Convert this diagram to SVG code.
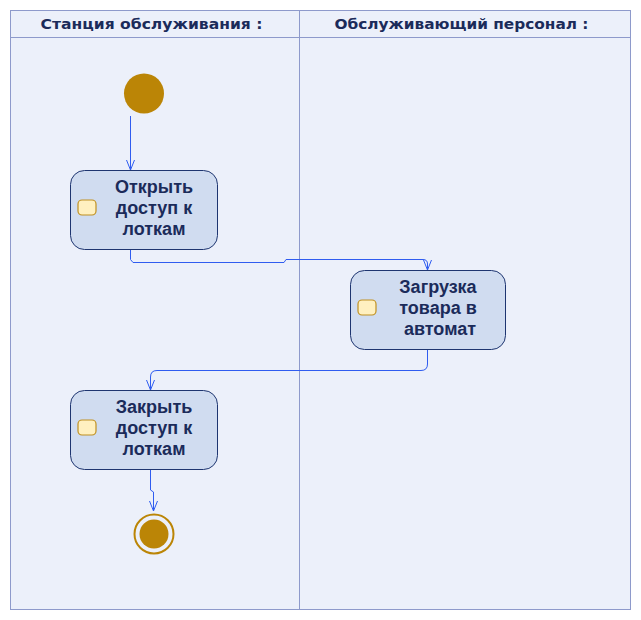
<svg xmlns="http://www.w3.org/2000/svg" width="641" height="620" viewBox="0 0 641 620">
<defs>
<style>
.hdr{font-family:"DejaVu Sans","Liberation Sans",Arial,sans-serif;font-weight:bold;font-size:14.5px;fill:#1b2b5a;text-anchor:middle}
.lbl{font-family:"Liberation Sans",Arial,sans-serif;font-weight:bold;font-size:18px;fill:#1b2b5a;text-anchor:middle}
.act{fill:#d0dcf0;stroke:#1e3570;stroke-width:1}
.ico{fill:#fff0c0;stroke:#c09020;stroke-width:1.2}
.edge{fill:none;stroke:#2f5cf0;stroke-width:1}
.lane{fill:#ecf0fa;stroke:#8e9acb;stroke-width:1}
</style>
<marker id="arr" viewBox="0 0 12 10" refX="11" refY="5" markerWidth="12" markerHeight="10" markerUnits="userSpaceOnUse" orient="auto">
<path d="M1,1 L11,5 L1,9" fill="none" stroke="#2f5cf0" stroke-width="1"/>
</marker>
</defs>
<rect width="641" height="620" fill="#ffffff"/>
<g id="lanes">
<rect class="lane" x="10.5" y="10.5" width="620" height="599"/>
<line x1="10.5" y1="37.5" x2="630.5" y2="37.5" stroke="#8e9acb"/>
<line x1="299.5" y1="10.5" x2="299.5" y2="609.5" stroke="#8e9acb"/>
<text class="hdr" x="151.5" y="29" textLength="222" lengthAdjust="spacingAndGlyphs">Станция обслуживания :</text>
<text class="hdr" x="461.5" y="29" textLength="254" lengthAdjust="spacingAndGlyphs">Обслуживающий персонал :</text>
</g>
<g id="connectors">
<path class="edge" d="M130.5,116 V170" marker-end="url(#arr)"/>
<path class="edge" d="M130.5,250 V259.5 L133,262.5 H284 L286,259.5 H423 Q427.5,259.5 427.5,264 V270" marker-end="url(#arr)"/>
<path class="edge" d="M427.5,350 V364 Q427.5,370.5 421,370.5 H157 Q150.5,370.5 150.5,377 V390" marker-end="url(#arr)"/>
<path class="edge" d="M150.5,470 V490 L153.5,492 V511" marker-end="url(#arr)"/>
</g>
<g id="start">
<circle cx="144" cy="93.5" r="20" fill="#bb8506"/>
</g>
<g id="a1">
<rect class="act" x="70.5" y="170.5" width="147" height="79" rx="14"/>
<rect class="ico" x="78" y="200" width="18" height="15" rx="4"/>
<text class="lbl" x="154" y="193">Открыть</text>
<text class="lbl" x="154" y="214">доступ к</text>
<text class="lbl" x="154" y="235">лоткам</text>
</g>
<g id="a2">
<rect class="act" x="350.5" y="270.5" width="155" height="79" rx="14"/>
<rect class="ico" x="358" y="300" width="18" height="15" rx="4"/>
<text class="lbl" x="438" y="293">Загрузка</text>
<text class="lbl" x="438" y="314">товара в</text>
<text class="lbl" x="440" y="335">автомат</text>
</g>
<g id="a3">
<rect class="act" x="70.5" y="390.5" width="147" height="79" rx="14"/>
<rect class="ico" x="78" y="420" width="18" height="15" rx="4"/>
<text class="lbl" x="154" y="413">Закрыть</text>
<text class="lbl" x="154" y="434">доступ к</text>
<text class="lbl" x="154" y="455">лоткам</text>
</g>
<g id="end">
<circle cx="154" cy="534" r="19.5" fill="none" stroke="#bb8506" stroke-width="2"/>
<circle cx="154" cy="534" r="14.5" fill="#bb8506"/>
</g>
</svg>
